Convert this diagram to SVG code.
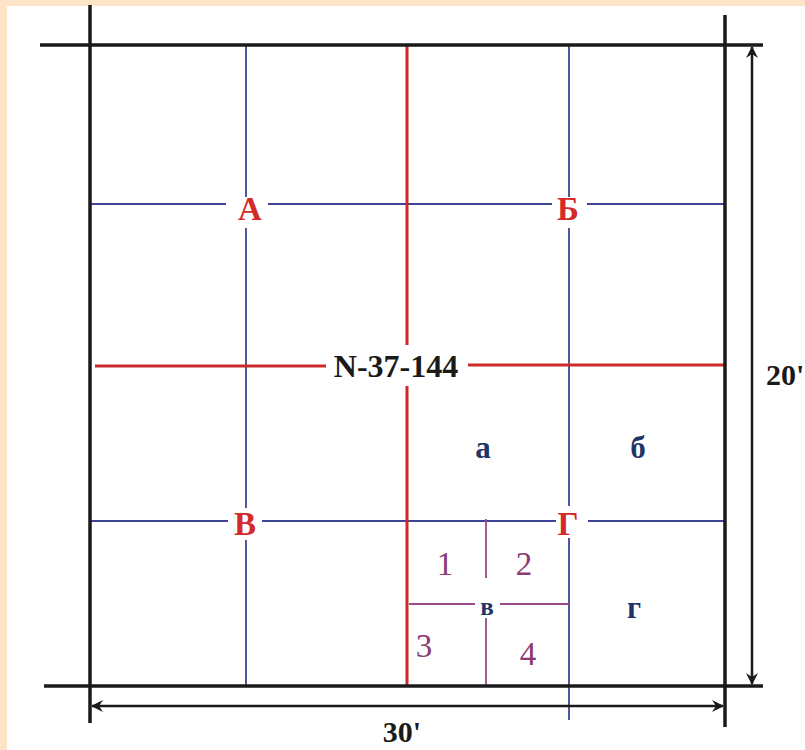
<svg xmlns="http://www.w3.org/2000/svg" width="805" height="750" viewBox="0 0 805 750">
<defs>
<style>
.bk{stroke:#1a1a1a;stroke-width:3.5;fill:none}
.bl{stroke:#3d4396;stroke-width:1.8;fill:none}
.rd{stroke:#cc2a2a;stroke-width:3;fill:none}
.pu{stroke:#9a4b8a;stroke-width:1.8;fill:none}
.ar{stroke:#1a1a1a;stroke-width:2.5;fill:none}
text{font-family:"Liberation Serif","Times New Roman",serif}
.lr{fill:#d42a2a;font-weight:bold;font-size:33px;text-anchor:middle}
.lb{fill:#1f3566;font-weight:bold;font-size:31px;text-anchor:middle}
.lp{fill:#8b3a73;font-size:33px;text-anchor:middle}
.lk{fill:#1a1a1a;font-weight:bold;font-size:32px;text-anchor:middle}
</style>
<marker id="ah" viewBox="0 0 12 12" refX="11" refY="6" markerWidth="12" markerHeight="12" markerUnits="userSpaceOnUse" orient="auto-start-reverse">
<path d="M0,0 L12,6 L0,12 L4,6 Z" fill="#1a1a1a"/>
</marker>
</defs>
<rect x="0" y="0" width="805" height="750" fill="#fde3c8"/>
<rect x="7" y="6" width="798" height="744" fill="#ffffff"/>
<g id="connectors">
<line class="bl" x1="246" y1="45" x2="246" y2="197"/>
<line class="bl" x1="246" y1="228" x2="246" y2="508"/>
<line class="bl" x1="246" y1="540" x2="246" y2="686"/>
<line class="bl" x1="569" y1="45" x2="569" y2="197"/>
<line class="bl" x1="569" y1="228" x2="569" y2="506"/>
<line class="bl" x1="569" y1="538" x2="569" y2="720"/>
<line class="bl" x1="90" y1="204" x2="226" y2="204"/>
<line class="bl" x1="268" y1="204" x2="552" y2="204"/>
<line class="bl" x1="587" y1="204" x2="725" y2="204"/>
<line class="bl" x1="90" y1="521" x2="228" y2="521"/>
<line class="bl" x1="262" y1="521" x2="556" y2="521"/>
<line class="bl" x1="588" y1="521" x2="725" y2="521"/>
<line class="rd" x1="407" y1="45" x2="407" y2="345"/>
<line class="rd" x1="407" y1="386" x2="407" y2="686"/>
<line class="rd" x1="95" y1="366" x2="326" y2="366"/>
<line class="rd" x1="468" y1="365" x2="725" y2="365"/>
<line class="pu" x1="486" y1="519" x2="486" y2="578"/>
<line class="pu" x1="486" y1="618" x2="486" y2="686"/>
<line class="pu" x1="409" y1="604" x2="475" y2="604"/>
<line class="pu" x1="500" y1="604" x2="569" y2="604"/>
<line class="bk" x1="40" y1="45" x2="763" y2="45"/>
<line class="bk" x1="44" y1="686" x2="763" y2="686"/>
<line class="bk" x1="90" y1="5" x2="90" y2="723"/>
<line class="bk" x1="725" y1="15" x2="725" y2="727"/>
<line class="ar" x1="752" y1="47" x2="752" y2="684" marker-start="url(#ah)" marker-end="url(#ah)"/>
<line class="ar" x1="92" y1="706" x2="723" y2="706" marker-start="url(#ah)" marker-end="url(#ah)"/>
</g>
<g id="node-A"><text class="lr" x="250" y="220">А</text></g>
<g id="node-B"><text class="lr" x="568" y="220">Б</text></g>
<g id="node-V"><text class="lr" x="245" y="535">В</text></g>
<g id="node-G"><text class="lr" x="568" y="535">Г</text></g>
<g id="node-N"><text class="lk" x="396" y="377">N-37-144</text></g>
<g id="node-a"><text class="lb" x="483" y="458">а</text></g>
<g id="node-b"><text class="lb" x="638" y="458">б</text></g>
<g id="node-g"><text class="lb" x="634" y="618">г</text></g>
<g id="node-v"><text class="lb" x="487" y="615" style="font-size:25px">в</text></g>
<g id="node-1"><text class="lp" x="445" y="575">1</text></g>
<g id="node-2"><text class="lp" x="524" y="575">2</text></g>
<g id="node-3"><text class="lp" x="424" y="657">3</text></g>
<g id="node-4"><text class="lp" x="528" y="665">4</text></g>
<g id="label-20"><text class="lk" x="766" y="385" style="text-anchor:start;font-size:30px">20'</text></g>
<g id="label-30"><text class="lk" x="402" y="742" style="font-size:30px">30'</text></g>
</svg>
